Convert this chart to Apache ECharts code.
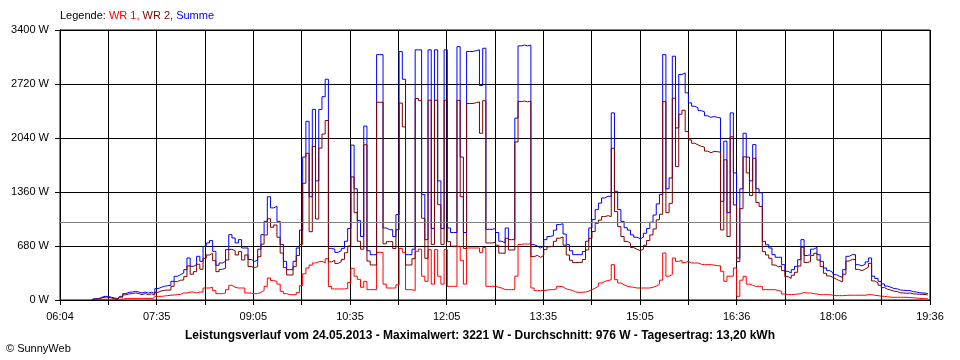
<!DOCTYPE html>
<html><head><meta charset="utf-8">
<script src="https://cdn.jsdelivr.net/npm/echarts@6/dist/echarts.min.js"></script>
<style>html,body{margin:0;padding:0;background:#fff}#c{width:960px;height:360px}</style>
</head><body><div id="c"></div>
<script>
// x-axis tick labels (every second grid line)
const tickLabels = ['06:04','07:35','09:05','10:35','12:05','13:35','15:05','16:36','18:06','19:36'];
const axisStartMin = 364;   // 06:04
const axisEndMin = 1176;    // 19:36
const firstSampleMin = 394; // 06:34
const sampleStepMin = 3;
const yTickValues = [0, 680, 1360, 2040, 2720, 3400];
const average = 976;

// WR 1 (W)
const wr1 = [
5,5,5,8,10,10,8,8,8,10,
15,20,20,20,20,20,20,20,20,20,
46,46,50,55,60,63,67,70,88,88,
100,100,88,100,100,151,151,160,118,80,
80,88,130,185,160,151,151,151,88,88,
80,80,95,120,172,277,244,235,200,109,
80,67,67,67,95,180,330,403,440,466,
480,487,470,520,170,139,139,139,139,145,
220,400,300,260,160,235,130,130,130,600,
600,200,151,151,151,190,650,600,130,130,
120,613,640,300,235,634,200,634,300,200,
634,172,172,172,676,500,200,655,655,655,
655,600,660,172,172,172,160,150,130,130,
130,130,300,700,705,705,705,151,118,118,
118,125,130,130,140,172,165,140,130,120,
100,97,97,100,110,130,150,172,214,235,
244,256,445,256,214,190,172,165,160,151,
151,151,151,151,160,175,200,250,592,300,
320,529,487,500,470,487,466,466,466,450,
445,445,445,440,432,432,361,235,300,300,
403,46,250,298,200,185,172,172,172,130,
130,130,130,120,109,75,67,67,70,75,
80,95,88,88,80,75,67,67,67,67,
60,55,55,55,58,60,60,60,60,60,
60,67,67,60,55,48,46,40,36,34,
34,34,34,34,30,28,25,20,17,17,
17
];

// Summe (W)
const summe = [
10,17,17,34,46,46,34,25,17,46,
80,97,100,109,100,88,100,88,97,84,
143,160,172,180,185,235,298,319,340,382,
529,424,445,550,487,676,718,748,613,437,
466,487,634,823,781,718,760,655,655,510,
487,500,640,823,990,1300,1160,1180,990,700,
487,382,382,487,655,880,1800,2250,1300,2400,
1500,2400,2560,2780,650,640,600,620,650,740,
900,1950,1400,1000,800,2190,620,571,571,3090,
3090,907,886,886,800,1075,3130,2780,571,571,
640,3150,3150,1330,760,3150,900,3150,1500,900,
3150,907,850,850,3190,1800,850,3130,3130,3140,
3150,2700,3170,890,890,900,850,740,718,907,
760,760,2290,3200,3210,3200,3210,697,680,655,
680,760,800,810,880,950,960,830,697,620,
571,571,571,610,740,907,1012,1138,1220,1285,
1306,1306,2356,1369,1138,990,910,880,820,790,
773,790,840,900,980,1070,1210,1330,3090,1400,
1537,3070,2167,2840,2860,2608,2482,2440,2419,2385,
2370,2320,2300,2310,2300,2293,1243,2000,1100,2356,
1600,529,1400,2100,1800,1500,1957,1400,1350,739,
697,655,571,538,538,445,361,340,382,424,
508,760,560,571,640,663,571,487,403,370,
345,319,298,285,382,550,571,571,445,430,
450,480,529,300,270,235,202,175,160,145,
140,125,122,118,118,105,100,92,88,85,
80
];

const times = summe.map((_, i) => firstSampleMin + i * sampleStepMin);
const wr2 = summe.map((s, i) => s - wr1[i]);
const span = axisEndMin - axisStartMin;
const gridStep = span / 18;
const toPts = arr => arr.map((v, i) => [times[i] - axisStartMin, v]);

const FONT = 'Liberation Sans';
const chart = echarts.init(document.getElementById('c'), null, {renderer: 'canvas'});
chart.setOption({
  animation: false,
  backgroundColor: '#fff',
  title: [
    {
      left: 60, top: 10, padding: 0,
      text: '{k|Legende: }{a|WR 1, }{b|WR 2, }{c|Summe}',
      textStyle: {
        fontFamily: FONT, fontSize: 11, fontWeight: 'normal',
        rich: {
          k: {color: '#000', fontFamily: FONT, fontSize: 11},
          a: {color: '#ff0000', fontFamily: FONT, fontSize: 11},
          b: {color: '#800000', fontFamily: FONT, fontSize: 11},
          c: {color: '#0000ff', fontFamily: FONT, fontSize: 11}
        }
      }
    },
    {
      left: 'center', top: 330, padding: 0,
      text: 'Leistungsverlauf vom 24.05.2013 - Maximalwert: 3221 W - Durchschnitt: 976 W - Tagesertrag: 13,20 kWh',
      textStyle: {fontFamily: FONT, fontSize: 12, fontWeight: 'bold', color: '#000'}
    },
    {
      left: 6, top: 343, padding: 0,
      text: '© SunnyWeb',
      textStyle: {fontFamily: FONT, fontSize: 11, fontWeight: 'normal', color: '#000'}
    }
  ],
  grid: {left: 60, right: 30, top: 30, bottom: 60, show: true, borderColor: '#000', borderWidth: 1},
  xAxis: {
    type: 'value', min: 0, max: span, interval: gridStep,
    axisLine: {show: true, lineStyle: {color: '#000', width: 1}},
    axisTick: {show: true, length: 5, lineStyle: {color: '#000'}},
    splitLine: {show: true, lineStyle: {color: '#000', width: 1}},
    axisLabel: {
      margin: 11, color: '#000', fontFamily: FONT, fontSize: 11,
      showMinLabel: true, showMaxLabel: true,
      formatter: v => {
        const idx = Math.round(v / gridStep);
        if (Math.abs(v - idx * gridStep) > 0.5 || idx % 2) return '';
        return tickLabels[idx / 2] || '';
      }
    }
  },
  yAxis: {
    type: 'value', min: yTickValues[0], max: yTickValues[yTickValues.length - 1],
    interval: yTickValues[1] - yTickValues[0],
    axisLine: {show: true, lineStyle: {color: '#000', width: 1}},
    axisTick: {show: true, length: 5, lineStyle: {color: '#000'}},
    splitLine: {show: true, lineStyle: {color: '#000', width: 1}},
    axisLabel: {margin: 11, color: '#000', fontFamily: FONT, fontSize: 11, formatter: v => v + ' W'}
  },
  series: [
    {
      name: 'WR 1', type: 'line', data: toPts(wr1), step: 'middle', showSymbol: false,
      lineStyle: {color: '#ff0000', width: 1}, itemStyle: {color: '#ff0000'}, z: 3,
      markLine: {
        silent: true, symbol: 'none', label: {show: false},
        lineStyle: {color: '#808080', width: 1, type: 'solid'},
        data: [{yAxis: average}]
      }
    },
    {
      name: 'WR 2', type: 'line', data: toPts(wr2), step: 'middle', showSymbol: false,
      lineStyle: {color: '#800000', width: 1}, itemStyle: {color: '#800000'}, z: 4
    },
    {
      name: 'Summe', type: 'line', data: toPts(summe), step: 'middle', showSymbol: false,
      lineStyle: {color: '#0000ff', width: 1}, itemStyle: {color: '#0000ff'}, z: 2
    }
  ]
});
</script>
</body></html>
